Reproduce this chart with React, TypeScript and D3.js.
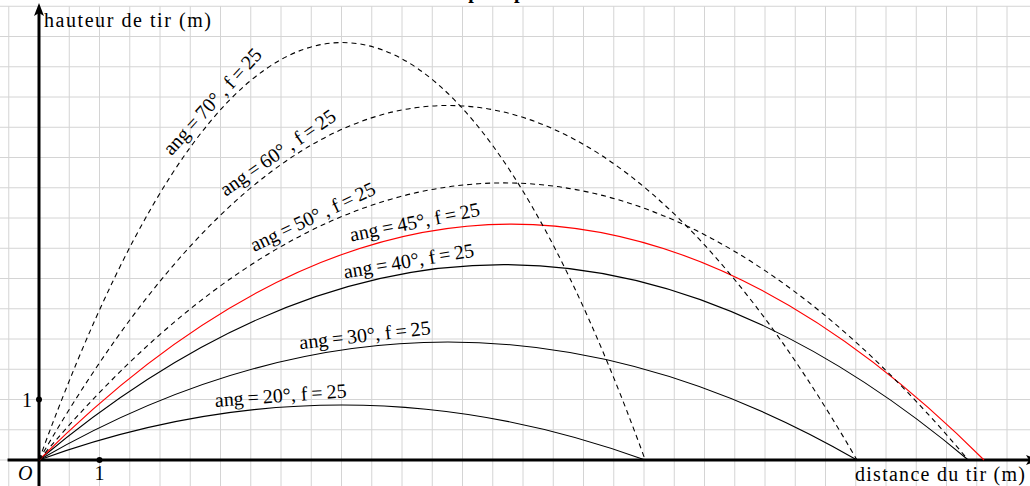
import React, { useEffect, useRef } from "react";
import * as d3 from "d3";

// trajectoires (unités en m)
const angles = [20, 30, 40, 45, 50, 60, 70];
const forces = [25, 25, 25, 25, 25, 25, 25];
const ranges = [10.02, 13.52, 15.36, 15.62, 15.36, 13.52, 10.02];
const peaks = [0.91, 1.95, 3.23, 3.9, 4.58, 5.86, 6.9];
const labelPos = [0.4, 0.4, 0.4, 0.4, 0.3, 0.3, 0.3];

const unitTicks = [1];
const xTitle = "distance du tir (m)";
const yTitle = "hauteur de tir (m)";
const chartTitle = "Tirs pour plusieurs valeurs";

const W = 1030;
const H = 486;
const FONT = "Liberation Serif, DejaVu Serif, serif";

const App = () => {
  const svgRef = useRef<SVGSVGElement>(null);

  useEffect(() => {
    const svg = d3.select(svgRef.current);
    svg.selectAll("*").remove();

    const x = d3.scaleLinear().domain([0, 16]).range([39, 39 + 16 * 60.5]);
    const y = d3.scaleLinear().domain([0, 7]).range([460, 460 - 7 * 60.5]);

    // grille
    const grid = svg.append("g");
    const gx = d3.range(-1, 35).map((k) => k * 0.5);
    const gy = d3.range(-1, 16).map((k) => k * 0.5);
    grid
      .selectAll(".gv")
      .data(gx)
      .join("line")
      .attr("x1", (d) => x(d))
      .attr("x2", (d) => x(d))
      .attr("y1", y(7.5))
      .attr("y2", H)
      .attr("stroke", "#d4d4d4")
      .attr("stroke-width", 1);
    grid
      .selectAll(".gh")
      .data(gy.filter((d) => d >= -0.5 && d <= 7.5))
      .join("line")
      .attr("x1", 0)
      .attr("x2", W)
      .attr("y1", (d) => y(d))
      .attr("y2", (d) => y(d))
      .attr("stroke", "#d4d4d4")
      .attr("stroke-width", 1);

    // titre (coupé en haut, comme sur la figure)
    svg
      .append("text")
      .attr("x", 428)
      .attr("y", -2.5)
      .attr("font-family", FONT)
      .attr("font-weight", "bold")
      .attr("font-size", 20)
      .text(chartTitle);

    // axes
    const axes = svg.append("g");
    axes
      .append("line")
      .attr("x1", x(-0.52))
      .attr("x2", 1030)
      .attr("y1", y(0))
      .attr("y2", y(0))
      .attr("stroke", "#000")
      .attr("stroke-width", 3);
    axes
      .append("line")
      .attr("x1", x(0))
      .attr("x2", x(0))
      .attr("y1", H)
      .attr("y2", 12)
      .attr("stroke", "#000")
      .attr("stroke-width", 3);
    axes
      .append("path")
      .attr("d", d3.line()([
        [x(0), 3],
        [x(0) - 5, 16],
        [x(0), 13],
        [x(0) + 5, 16],
      ]) + "Z")
      .attr("fill", "#000");
    axes
      .append("path")
      .attr("d", d3.line()([
        [1039, y(0)],
        [1026, y(0) - 5],
        [1029, y(0)],
        [1026, y(0) + 5],
      ]) + "Z")
      .attr("fill", "#000");

    // trajectoires
    const curves = svg.append("g").attr("fill", "none");
    angles.forEach((a, i) => {
      const R = ranges[i];
      const h = peaks[i];
      const p = d3.path();
      p.moveTo(x(0), y(0));
      p.quadraticCurveTo(x(R / 2), y(2 * h), x(R), y(0));
      curves
        .append("path")
        .attr("d", p.toString())
        .attr("stroke", a === 45 ? "#ff0000" : "#000")
        .attr("stroke-width", 1.1)
        .attr("stroke-dasharray", a > 45 ? "5,4" : null);

      // étiquette le long de la courbe
      const u = labelPos[i] * R;
      const hv = (t: number) => (4 * h * t * (R - t)) / (R * R);
      const px = x(u);
      const py = y(hv(u));
      const slope = (4 * h * (R - 2 * u)) / (R * R);
      const ang = (Math.atan2(y(0) - y(slope), x(1) - x(0)) * 180) / Math.PI;
      const sep = a > 45 ? "\u2009, " : ", ";
      svg
        .append("text")
        .attr("transform", `translate(${px},${py}) rotate(${-ang})`)
        .attr("y", -5)
        .attr("text-anchor", "middle")
        .attr("font-family", FONT)
        .attr("font-size", 20)
        .attr("textLength", a > 45 ? 136 : 132)
        .attr("lengthAdjust", "spacing")
        .text(`ang\u2009=\u2009${a}°${sep}f\u2009=\u2009${forces[i]}`);
    });

    // points unité
    const marks = svg.append("g");
    unitTicks.forEach((t) => {
      marks
        .append("circle")
        .attr("cx", x(t))
        .attr("cy", y(0))
        .attr("r", 3)
        .attr("fill", "#000");
      marks
        .append("circle")
        .attr("cx", x(0))
        .attr("cy", y(t))
        .attr("r", 3)
        .attr("fill", "#000");
      marks
        .append("text")
        .attr("x", x(t))
        .attr("y", 480)
        .attr("text-anchor", "middle")
        .attr("font-family", FONT)
        .attr("font-size", 20)
        .text(t);
      marks
        .append("text")
        .attr("x", x(0) - 7)
        .attr("y", y(t) + 7)
        .attr("text-anchor", "end")
        .attr("font-family", FONT)
        .attr("font-size", 20)
        .text(t);
    });
    marks
      .append("text")
      .attr("x", 18)
      .attr("y", 480)
      .attr("font-family", FONT)
      .attr("font-style", "italic")
      .attr("font-size", 20)
      .text("O");

    svg
      .append("text")
      .attr("x", 44)
      .attr("y", 27)
      .attr("font-family", FONT)
      .attr("font-size", 20)
      .attr("textLength", 167)
      .attr("lengthAdjust", "spacing")
      .text(yTitle);
    svg
      .append("text")
      .attr("x", 855)
      .attr("y", 481)
      .attr("font-family", FONT)
      .attr("font-size", 20)
      .attr("textLength", 170)
      .attr("lengthAdjust", "spacing")
      .text(xTitle);
  }, []);

  return (
    <svg
      ref={svgRef}
      width={W}
      height={H}
      style={{ position: "absolute", left: 0, top: 0, background: "#fff" }}
    />
  );
};

export default App;
